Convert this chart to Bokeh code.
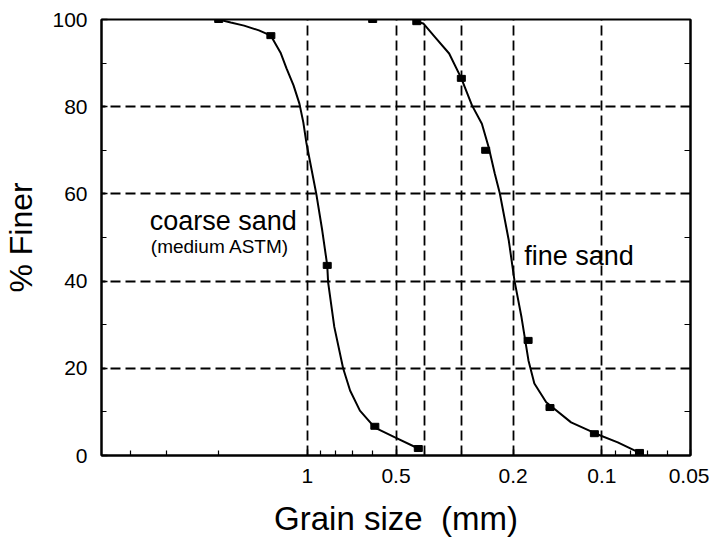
from bokeh.plotting import figure
from bokeh.models import (Range1d, FixedTicker, LinearAxis, Label,
                          CustomJSTickFormatter)
from bokeh.embed import file_html
from bokeh.resources import INLINE

# ---- data ----
coarse_size = [2.0, 1.33, 0.856, 0.59, 0.42]
coarse_finer = [100, 96.3, 43.6, 6.7, 1.6]
fine_size = [0.60, 0.425, 0.30, 0.248, 0.178, 0.150, 0.106, 0.0745]
fine_finer = [100, 99.5, 86.5, 70.0, 26.4, 11.0, 5.0, 0.7]

# hand-drawn fitted curves
coarse_curve_x = [2.0, 1.82, 1.64, 1.46, 1.33, 1.233, 1.177, 1.114, 1.064,
                  1.032, 1.008, 0.933, 0.89, 0.856, 0.85, 0.81, 0.756, 0.716,
                  0.663, 0.59, 0.502, 0.42]
coarse_curve_y = [100, 99.3, 98.6, 97.5, 96.3, 92.4, 88.8, 84.9, 80.7,
                  76.4, 71.8, 60.1, 51.6, 43.6, 39.7, 29.5, 20.0, 14.9,
                  10.3, 6.4, 4.1, 1.6]
fine_curve_x = [0.43, 0.404, 0.368, 0.33, 0.30, 0.276, 0.2555, 0.242, 0.231,
                0.222, 0.207, 0.198, 0.1874, 0.1775, 0.1695, 0.1545, 0.1272,
                0.1047, 0.0883, 0.075]
fine_curve_y = [99.6, 99.1, 95.9, 92.2, 86.5, 80.3, 76.1, 70.6, 64.7,
                60.1, 49.3, 40.1, 31.7, 21.8, 16.5, 12.2, 7.6,
                5.0, 3.0, 0.7]

x_ticks = [1, 0.5, 0.2, 0.1, 0.05]
x_minor = [4, 3, 2, 0.9, 0.8, 0.7, 0.6, 0.4, 0.3, 0.09, 0.08, 0.07, 0.06]
x_grid = [1, 0.5, 0.4, 0.3, 0.2, 0.1]
y_ticks = [0, 20, 40, 60, 80, 100]
y_minor = [10, 30, 50, 70, 90]
y_grid = [20, 40, 60, 80]

FONT = "Liberation Sans"

p = figure(width=709, height=539, x_axis_type="log",
           x_range=Range1d(5, 0.05), y_range=Range1d(0, 100),
           output_backend="svg", toolbar_location=None,
           min_border_left=96, min_border_right=19,
           min_border_top=19, min_border_bottom=84)
p.background_fill_color = "white"
p.border_fill_color = "white"
p.outline_line_color = "black"
p.outline_line_width = 2

# grids
p.xgrid.ticker = FixedTicker(ticks=x_grid)
p.ygrid.ticker = FixedTicker(ticks=y_grid)
for g in (p.xgrid, p.ygrid):
    g.grid_line_color = "black"
    g.grid_line_width = 1.8
    g.grid_line_dash = "10 5"

# x axis
xa = p.xaxis[0]
xa.ticker = FixedTicker(ticks=x_ticks, minor_ticks=x_minor)
xa.formatter = CustomJSTickFormatter(code="return tick.toString();")
xa.axis_label = "Grain size\u00a0 (mm)"

# y axis
ya = p.yaxis[0]
ya.ticker = FixedTicker(ticks=y_ticks, minor_ticks=y_minor)
ya.axis_label = "% Finer"

for ax in (xa, ya):
    ax.axis_line_width = 2
    ax.axis_line_color = "black"
    ax.major_tick_in = 6
    ax.major_tick_out = 0
    ax.minor_tick_in = 5
    ax.minor_tick_out = 0
    ax.major_tick_line_color = "black"
    ax.minor_tick_line_color = "black"
    ax.major_tick_line_width = 1.5
    ax.minor_tick_line_width = 1.2
    ax.major_label_text_font = FONT
    ax.major_label_text_font_size = "21px"
    ax.major_label_text_color = "black"
    ax.axis_label_text_font = FONT
    ax.axis_label_text_font_size = "32px"
    ax.axis_label_text_font_style = "normal"
    ax.axis_label_text_color = "black"

xa.axis_label_text_font_size = "33px"
xa.major_label_standoff = 13
xa.axis_label_standoff = 14
ya.major_label_standoff = 14
ya.axis_label_standoff = 10

# right axis with inward ticks only
ra = LinearAxis(ticker=FixedTicker(ticks=y_ticks, minor_ticks=y_minor),
                formatter=CustomJSTickFormatter(code="return '';"))
ra.axis_line_width = 2
ra.major_tick_in = 6
ra.major_tick_out = 0
ra.minor_tick_in = 6
ra.minor_tick_out = 0
ra.major_label_standoff = 0
p.add_layout(ra, "right")

# curves
p.line(coarse_curve_x, coarse_curve_y, line_color="black", line_width=2)
p.line(fine_curve_x, fine_curve_y, line_color="black", line_width=2)

# points
p.rect(coarse_size, coarse_finer, width=8, height=6, width_units="screen",
       height_units="screen", fill_color="black", line_color="black")
p.rect(fine_size, fine_finer, width=8, height=6, width_units="screen",
       height_units="screen", fill_color="black", line_color="black")

# annotations
p.add_layout(Label(x=1.93, y=53.8, text="coarse sand", text_align="center",
                   text_baseline="alphabetic", text_font=FONT,
                   text_font_size="27px", text_color="black"))
p.add_layout(Label(x=1.98, y=48.0, text="(medium ASTM)", text_align="center",
                   text_baseline="alphabetic", text_font=FONT,
                   text_font_size="19px", text_color="black"))
p.add_layout(Label(x=0.1195, y=45.8, text="fine sand", text_align="center",
                   text_baseline="alphabetic", text_font=FONT,
                   text_font_size="27px", text_color="black"))

open("out.html", "w").write(file_html(p, INLINE))
